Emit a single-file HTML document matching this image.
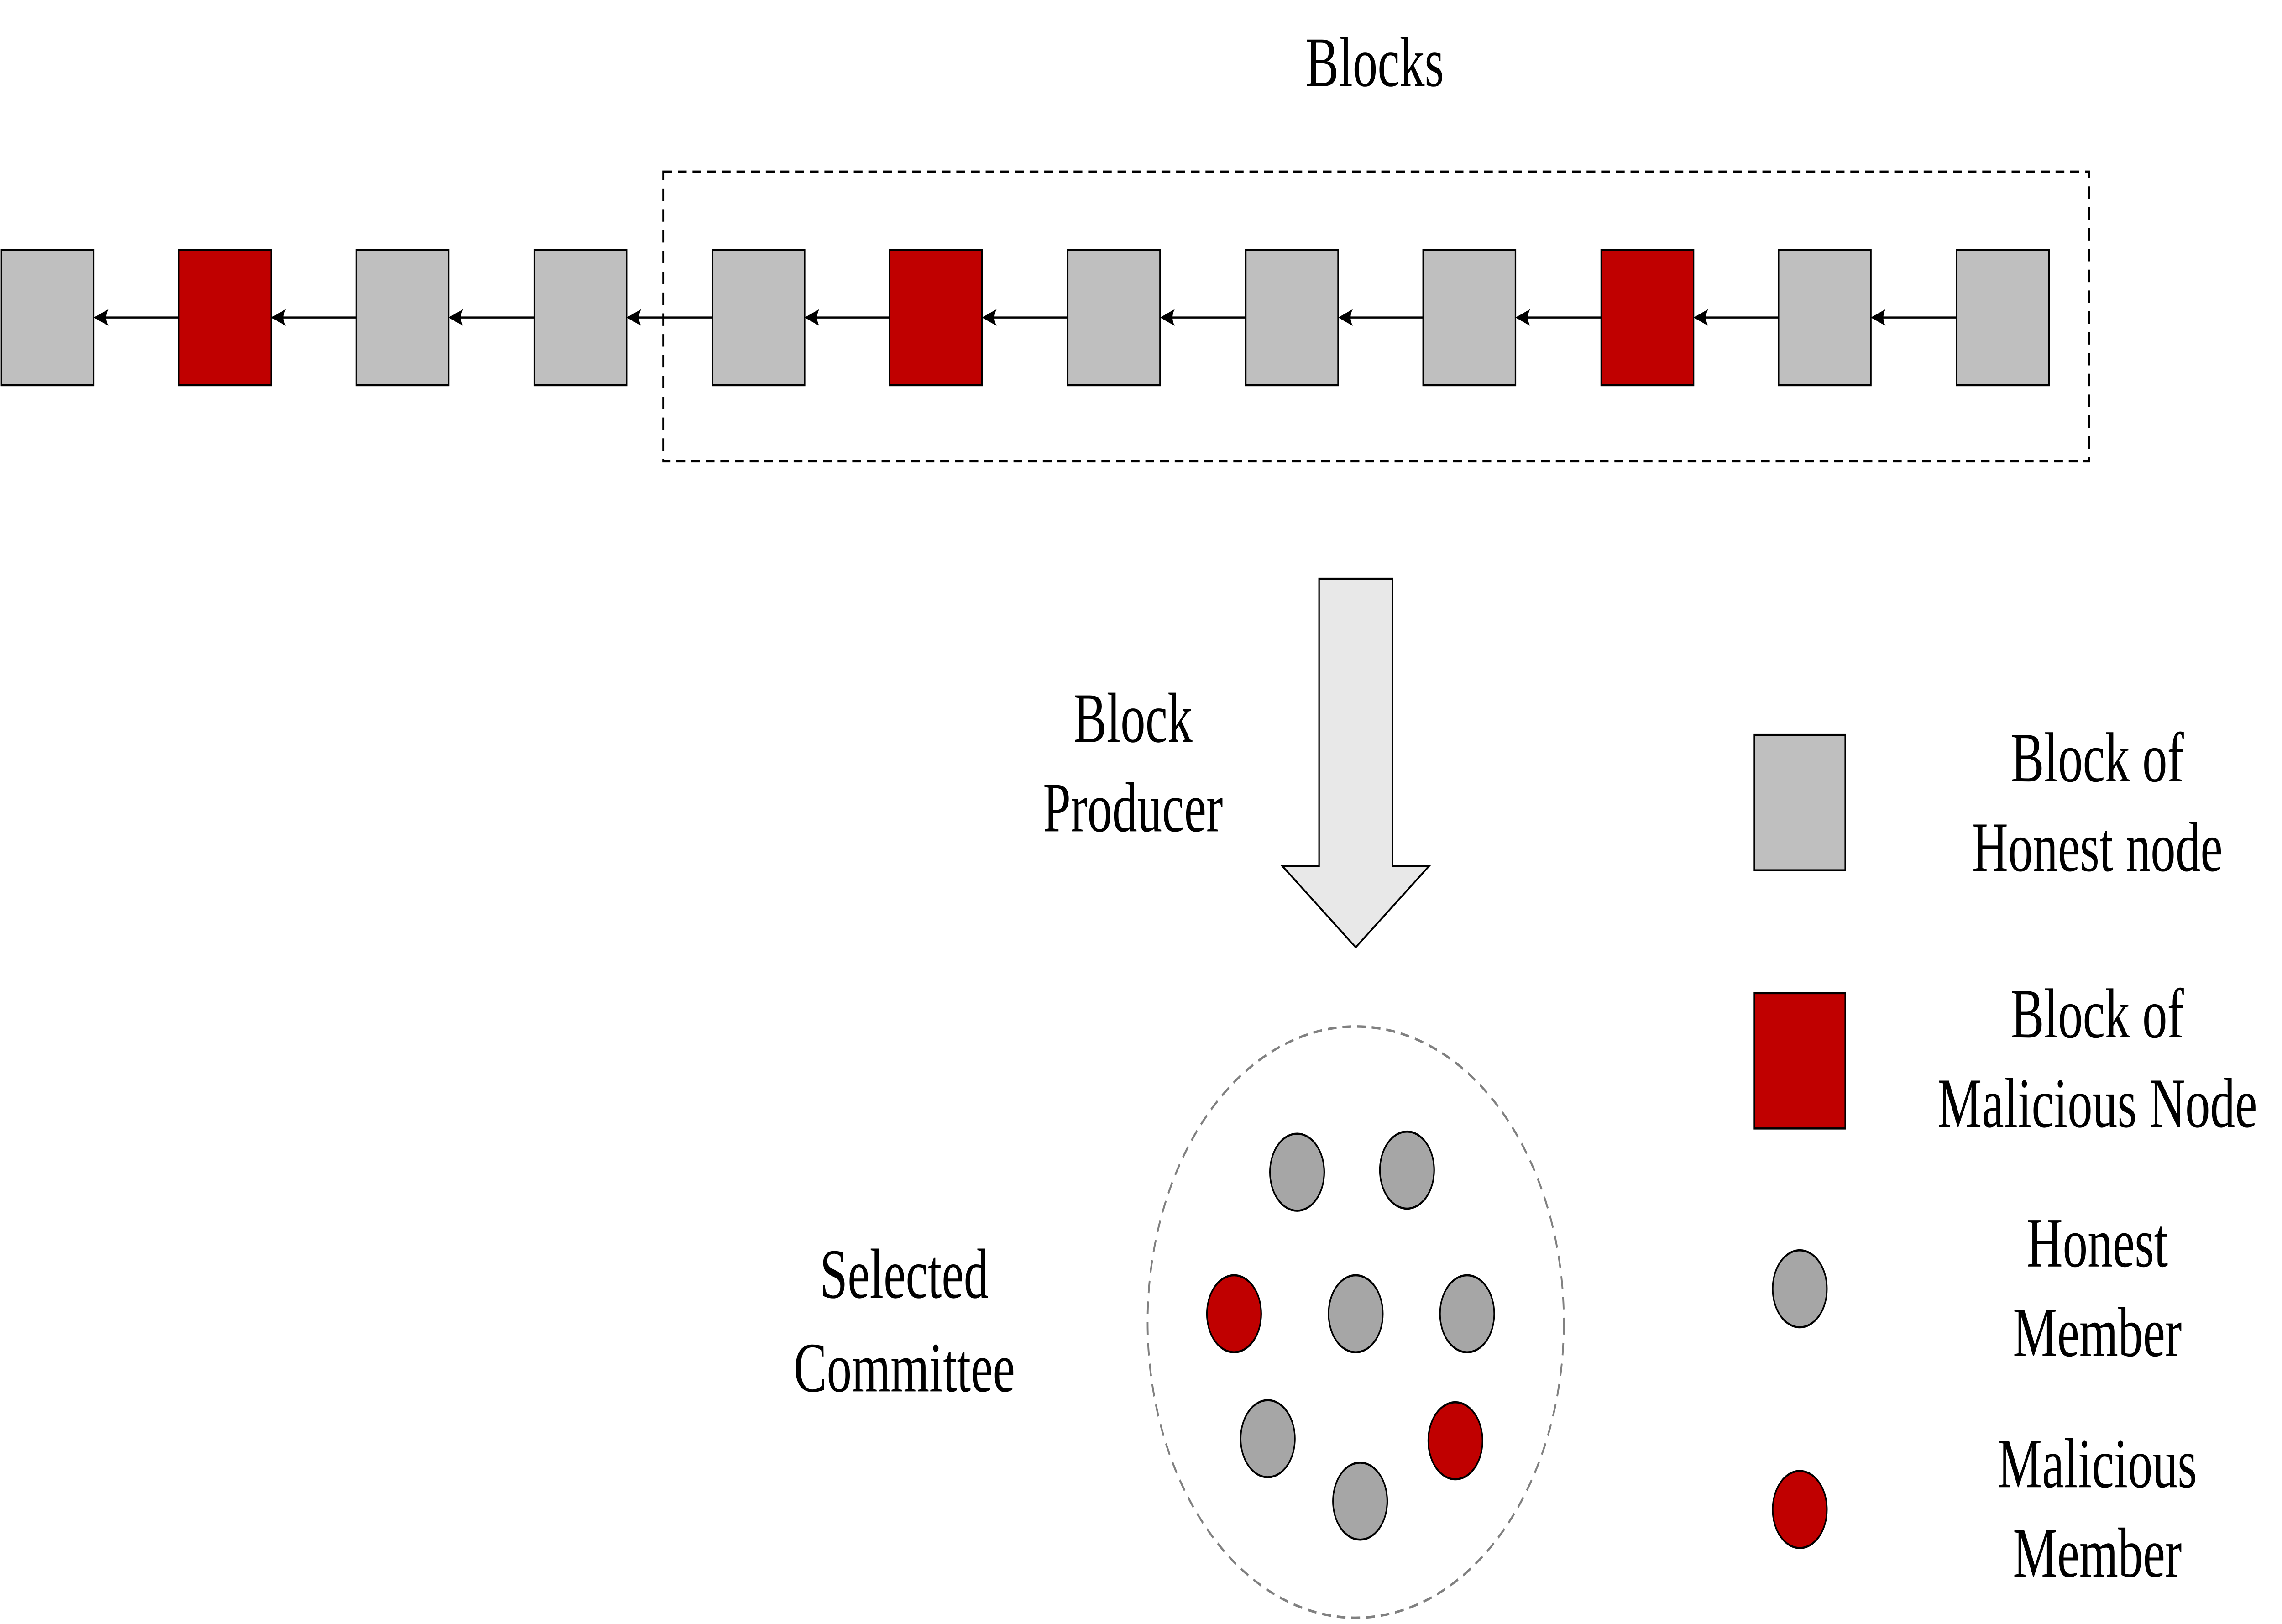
<!DOCTYPE html>
<html><head><meta charset="utf-8"><style>
html,body{margin:0;padding:0;background:#fff;width:100%;height:100%;overflow:hidden;}
svg{display:block;width:100vw;height:100vh;}
text{font-family:"Liberation Serif",serif;font-size:34px;fill:#000;text-anchor:middle;dominant-baseline:central;}
</style></head><body>
<svg viewBox="0 0 1557 780" preserveAspectRatio="none" xmlns="http://www.w3.org/2000/svg">
<defs>
<marker id="ah" markerWidth="10" markerHeight="8" refX="9" refY="4" orient="auto" markerUnits="userSpaceOnUse">
<path d="M0,0 Q3,4 0,8 L10,4 Z" fill="#000"/>
</marker>
</defs>
<text x="938" y="30">Blocks</text>
<rect x="452.5" y="82.5" width="973" height="139" fill="none" stroke="#000" stroke-width="1.2" stroke-dasharray="6,4"/>
<g stroke="#000" stroke-width="1">
<rect x="1" y="120" width="63" height="65" fill="#bfbfbf"/>
<rect x="122" y="120" width="63" height="65" fill="#c00000"/>
<rect x="243" y="120" width="63" height="65" fill="#bfbfbf"/>
<rect x="364.5" y="120" width="63" height="65" fill="#bfbfbf"/>
<rect x="486" y="120" width="63" height="65" fill="#bfbfbf"/>
<rect x="607" y="120" width="63" height="65" fill="#c00000"/>
<rect x="728.5" y="120" width="63" height="65" fill="#bfbfbf"/>
<rect x="850" y="120" width="63" height="65" fill="#bfbfbf"/>
<rect x="971" y="120" width="63" height="65" fill="#bfbfbf"/>
<rect x="1092.5" y="120" width="63" height="65" fill="#c00000"/>
<rect x="1213.5" y="120" width="63" height="65" fill="#bfbfbf"/>
<rect x="1335" y="120" width="63" height="65" fill="#bfbfbf"/>
<line x1="122" y1="152.5" x2="65" y2="152.5" marker-end="url(#ah)"/>
<line x1="243" y1="152.5" x2="186" y2="152.5" marker-end="url(#ah)"/>
<line x1="364.5" y1="152.5" x2="307" y2="152.5" marker-end="url(#ah)"/>
<line x1="486" y1="152.5" x2="428.5" y2="152.5" marker-end="url(#ah)"/>
<line x1="607" y1="152.5" x2="550" y2="152.5" marker-end="url(#ah)"/>
<line x1="728.5" y1="152.5" x2="671" y2="152.5" marker-end="url(#ah)"/>
<line x1="850" y1="152.5" x2="792.5" y2="152.5" marker-end="url(#ah)"/>
<line x1="971" y1="152.5" x2="914" y2="152.5" marker-end="url(#ah)"/>
<line x1="1092.5" y1="152.5" x2="1035" y2="152.5" marker-end="url(#ah)"/>
<line x1="1213.5" y1="152.5" x2="1156.5" y2="152.5" marker-end="url(#ah)"/>
<line x1="1335" y1="152.5" x2="1277.5" y2="152.5" marker-end="url(#ah)"/>
</g>
<path d="M900,278 L950,278 L950,416 L975,416 L925,455 L875,416 L900,416 Z" fill="#e8e8e8" stroke="#000" stroke-width="1"/>
<text x="773" y="345">Block</text>
<text x="773" y="388">Producer</text>
<circle cx="925" cy="635" r="142" fill="none" stroke="#808080" stroke-width="1.2" stroke-dasharray="6,4"/>
<g stroke="#000" stroke-width="1">
<circle cx="885" cy="563" r="18.5" fill="#a6a6a6"/>
<circle cx="960" cy="562" r="18.5" fill="#a6a6a6"/>
<circle cx="842" cy="631" r="18.5" fill="#c00000"/>
<circle cx="925" cy="631" r="18.5" fill="#a6a6a6"/>
<circle cx="1001" cy="631" r="18.5" fill="#a6a6a6"/>
<circle cx="865" cy="691" r="18.5" fill="#a6a6a6"/>
<circle cx="993" cy="692" r="18.5" fill="#c00000"/>
<circle cx="928" cy="721" r="18.5" fill="#a6a6a6"/>
<rect x="1197" y="353" width="62" height="65" fill="#bfbfbf"/>
<rect x="1197" y="477" width="62" height="65" fill="#c00000"/>
<circle cx="1228" cy="619" r="18.5" fill="#a6a6a6"/>
<circle cx="1228" cy="725" r="18.5" fill="#c00000"/>
</g>
<text x="617" y="612">Selected</text>
<text x="617" y="657">Committee</text>
<text x="1431" y="364">Block of</text>
<text x="1431" y="407">Honest node</text>
<text x="1431" y="487">Block of</text>
<text x="1431" y="530">Malicious Node</text>
<text x="1431" y="597">Honest</text>
<text x="1431" y="640">Member</text>
<text x="1431" y="703">Malicious</text>
<text x="1431" y="746">Member</text>
</svg>
</body></html>
